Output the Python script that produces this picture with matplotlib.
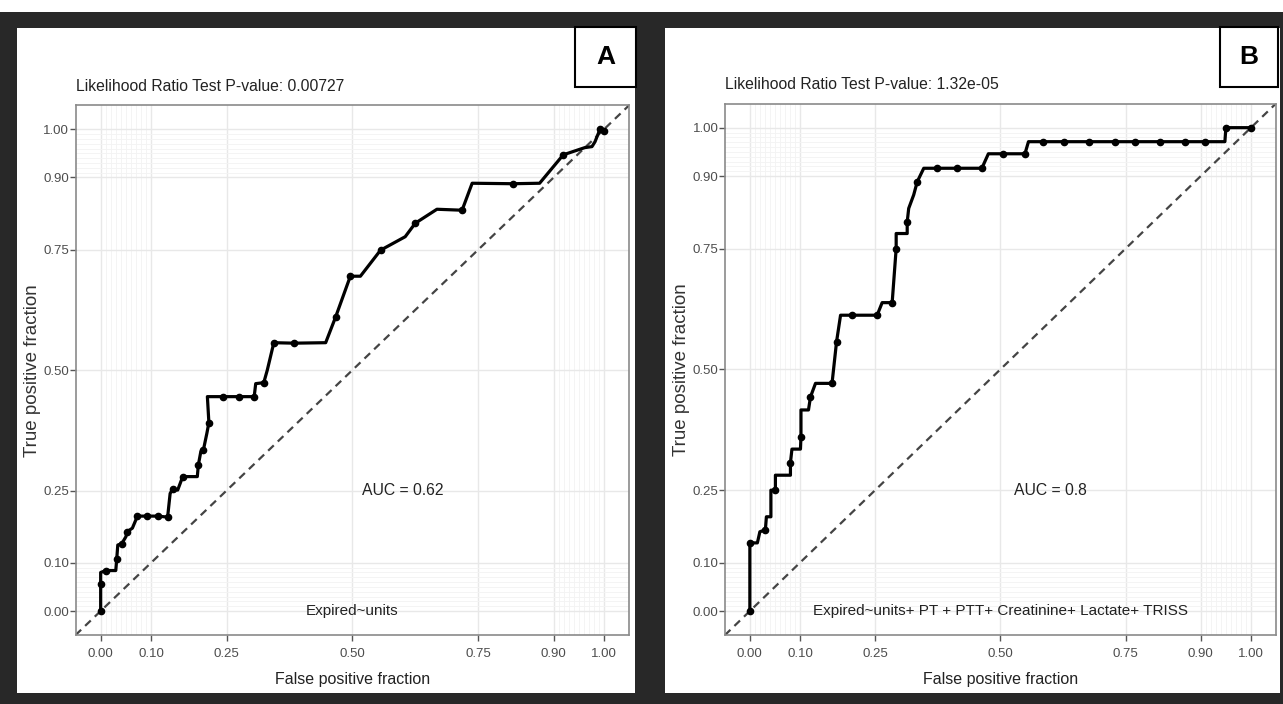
import numpy as np
import matplotlib
matplotlib.use("Agg")
import matplotlib.pyplot as plt
from matplotlib.patches import Rectangle

plt.rcParams["font.family"] = ["Liberation Sans", "DejaVu Sans"]

# ROC points (fpr, tpr, cut-point marker yes/no)
fpr_a = [0.000, 0.000, 0.000, 0.010, 0.030, 0.032, 0.034, 0.042, 0.050, 0.053,
         0.063, 0.073, 0.093, 0.113, 0.133, 0.138, 0.143, 0.153, 0.163, 0.192,
         0.194, 0.199, 0.204, 0.211, 0.215, 0.212, 0.244, 0.275, 0.305, 0.308,
         0.324, 0.331, 0.344, 0.384, 0.447, 0.467, 0.496, 0.516, 0.556, 0.605,
         0.625, 0.668, 0.718, 0.738, 0.819, 0.872, 0.919, 0.962, 0.976, 0.982,
         0.992, 1.000]
tpr_a = [0.000, 0.057, 0.080, 0.084, 0.084, 0.109, 0.137, 0.140, 0.154, 0.165,
         0.172, 0.197, 0.197, 0.197, 0.195, 0.244, 0.253, 0.251, 0.279, 0.279,
         0.303, 0.331, 0.334, 0.369, 0.391, 0.445, 0.445, 0.445, 0.445, 0.472,
         0.474, 0.500, 0.557, 0.556, 0.557, 0.611, 0.695, 0.695, 0.749, 0.777,
         0.805, 0.834, 0.832, 0.888, 0.887, 0.888, 0.947, 0.962, 0.964, 0.974,
         1.000, 0.997]
dot_a = [1, 1, 0, 1, 0, 1, 0, 1, 0, 1,
         0, 1, 1, 1, 1, 0, 1, 0, 1, 0,
         1, 0, 1, 0, 1, 0, 1, 1, 1, 0,
         1, 0, 1, 1, 0, 1, 1, 0, 1, 0,
         1, 0, 1, 0, 1, 0, 1, 0, 0, 0,
         1, 1]

fpr_b = [0.000, 0.000, 0.015, 0.020, 0.031, 0.033, 0.042, 0.042, 0.051, 0.051,
         0.081, 0.081, 0.084, 0.101, 0.102, 0.102, 0.117, 0.121, 0.131, 0.164,
         0.173, 0.181, 0.204, 0.254, 0.264, 0.284, 0.292, 0.292, 0.314, 0.314,
         0.317, 0.327, 0.334, 0.347, 0.373, 0.413, 0.463, 0.476, 0.506, 0.549,
         0.556, 0.586, 0.626, 0.676, 0.729, 0.769, 0.819, 0.868, 0.909, 0.948,
         0.950, 1.000]
tpr_b = [0.000, 0.141, 0.141, 0.164, 0.168, 0.195, 0.195, 0.250, 0.250, 0.281,
         0.281, 0.307, 0.335, 0.335, 0.361, 0.416, 0.416, 0.443, 0.471, 0.471,
         0.557, 0.612, 0.612, 0.612, 0.638, 0.638, 0.750, 0.781, 0.781, 0.805,
         0.833, 0.861, 0.888, 0.916, 0.916, 0.916, 0.916, 0.946, 0.946, 0.946,
         0.971, 0.971, 0.971, 0.971, 0.971, 0.971, 0.971, 0.971, 0.971, 0.971,
         1.000, 1.000]
dot_b = [1, 1, 0, 0, 1, 0, 0, 0, 1, 0,
         0, 1, 0, 0, 1, 0, 0, 1, 0, 1,
         1, 0, 1, 1, 0, 1, 1, 0, 0, 1,
         0, 0, 1, 0, 1, 1, 1, 0, 1, 1,
         0, 1, 1, 1, 1, 1, 1, 1, 1, 0,
         1, 1]

titles = ["Likelihood Ratio Test P-value: 0.00727",
          "Likelihood Ratio Test P-value: 1.32e-05"]
auc_labels = ["AUC = 0.62", "AUC = 0.8"]
model_labels = ["Expired~units",
                "Expired~units+ PT + PTT+ Creatinine+ Lactate+ TRISS"]
panel_letters = ["A", "B"]

major_breaks = [0, 0.1, 0.25, 0.5, 0.75, 0.9, 1]
minor_breaks = list(np.arange(0, 0.101, 0.01)) + list(np.arange(0.9, 1.001, 0.01))

W, H = 1283, 704
fig = plt.figure(figsize=(W / 100, H / 100), dpi=100)
fig.patch.set_facecolor("#282828")


def box(x0, y0, x1, y1):
    # pixel box (top-left origin) -> figure fraction rect
    return [x0 / W, 1 - y1 / H, (x1 - x0) / W, (y1 - y0) / H]


def add_rect(x0, y0, x1, y1, **kw):
    l, b, w, h = box(x0, y0, x1, y1)
    fig.add_artist(Rectangle((l, b), w, h, transform=fig.transFigure, **kw))


# white strip on top and the two white panels (behind the axes)
add_rect(0, 0, W, 12, facecolor="white", edgecolor="none", zorder=-10)
add_rect(17, 28, 635, 693, facecolor="white", edgecolor="none", zorder=-10)
add_rect(665, 28, 1280, 693, facecolor="white", edgecolor="none", zorder=-10)

axes_px = [(75.5, 105.2, 629.2, 635.1), (724.8, 103.5, 1276.0, 635.2)]
label_px = [(575, 27, 636, 87), (1220, 27, 1278, 87)]

curves = [(fpr_a, tpr_a, dot_a), (fpr_b, tpr_b, dot_b)]

for i in range(2):
    ax = fig.add_axes(box(*axes_px[i]))
    ax.set_facecolor("white")
    fpr, tpr, dots = curves[i]
    fpr = np.array(fpr)
    tpr = np.array(tpr)
    dots = np.array(dots, dtype=bool)

    ax.set_xlim(-0.05, 1.05)
    ax.set_ylim(-0.05, 1.05)
    ax.set_xticks(major_breaks)
    ax.set_yticks(major_breaks)
    ax.set_xticklabels(["%.2f" % v for v in major_breaks])
    ax.set_yticklabels(["%.2f" % v for v in major_breaks])
    ax.set_xticks(minor_breaks, minor=True)
    ax.set_yticks(minor_breaks, minor=True)
    ax.tick_params(which="minor", length=0)
    ax.tick_params(which="major", length=4, width=1, color="#555555",
                   labelsize=9.5, labelcolor="#4d4d4d")
    ax.tick_params(axis="x", pad=5)
    ax.tick_params(axis="y", pad=0.5)
    ax.grid(True, which="minor", color="#f3f3f3", linewidth=0.6)
    ax.grid(True, which="major", color="#e8e8e8", linewidth=1.0)
    ax.set_axisbelow(True)
    for s in ax.spines.values():
        s.set_color("#8a8a8a")
        s.set_linewidth(1.2)

    # chance line across the whole panel
    ax.plot([-0.05, 1.05], [-0.05, 1.05], color="#444444", linewidth=1.6,
            linestyle=(0, (3.5, 2.5)))
    ax.plot(fpr, tpr, color="black", linewidth=2.3, solid_joinstyle="round")
    ax.plot(fpr[dots], tpr[dots], "o", color="black", markersize=4.5)

    ax.text(0.6, 0.25, auc_labels[i], ha="center", va="center", fontsize=11.3,
            color="#222222")
    ax.text(0.5, 0.0, model_labels[i], ha="center", va="center", fontsize=11,
            color="#222222")
    ax.set_xlabel("False positive fraction", fontsize=11.5, color="#222222",
                  labelpad=9)
    ax.set_ylabel("True positive fraction", fontsize=13.5, color="#333333",
                  labelpad=2)
    ax.text(0.0, 1.022, titles[i], transform=ax.transAxes, ha="left",
            va="bottom", fontsize=11.3, color="#222222")

    # letter box
    x0, y0, x1, y1 = label_px[i]
    add_rect(x0, y0, x1, y1, facecolor="white", edgecolor="black",
             linewidth=1.5, zorder=5)
    l, b, w, h = box(x0, y0, x1, y1)
    fig.text(l + w / 2, b + h / 2, panel_letters[i], ha="center", va="center",
             fontsize=19, fontweight="bold", color="black", zorder=6)

fig.savefig("out.png", dpi=100, facecolor=fig.get_facecolor())
